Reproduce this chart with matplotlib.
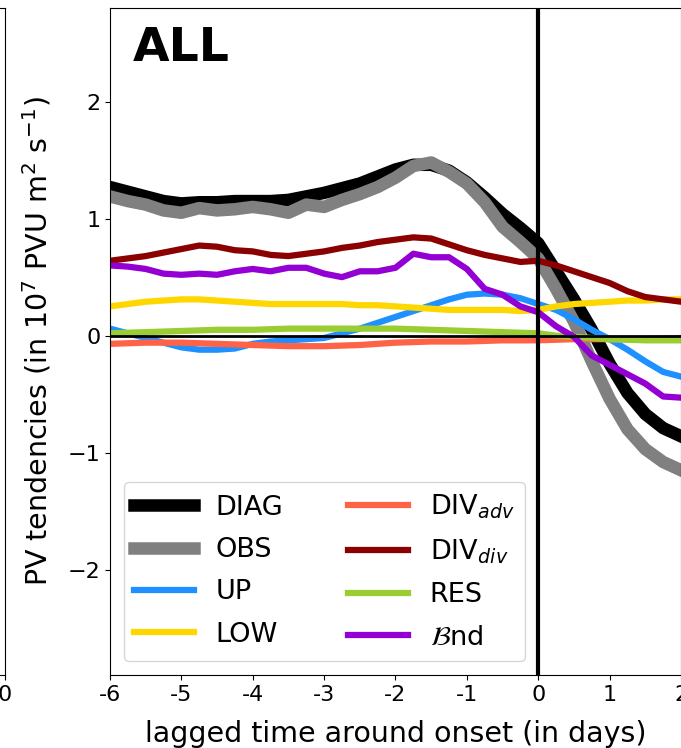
import numpy as np
import matplotlib
matplotlib.use("Agg")
import matplotlib.pyplot as plt

# lag in days around onset (6-hourly composite, sampled every quarter day)
lag = [-6.0, -5.75, -5.5, -5.25, -5.0, -4.75, -4.5, -4.25, -4.0, -3.75, -3.5,
       -3.25, -3.0, -2.75, -2.5, -2.25, -2.0, -1.75, -1.5, -1.25, -1.0, -0.75,
       -0.5, -0.25, 0.0, 0.25, 0.5, 0.75, 1.0, 1.25, 1.5, 1.75, 2.0]

diag = [1.27, 1.23, 1.19, 1.15, 1.13, 1.14, 1.14, 1.15, 1.15, 1.15, 1.16,
        1.19, 1.22, 1.26, 1.30, 1.36, 1.42, 1.46, 1.46, 1.41, 1.31, 1.18,
        1.04, 0.92, 0.79, 0.55, 0.31, 0.05, -0.24, -0.49, -0.67, -0.79, -0.86]
obs = [1.19, 1.15, 1.12, 1.07, 1.05, 1.09, 1.07, 1.08, 1.10, 1.08, 1.05,
       1.12, 1.10, 1.16, 1.21, 1.27, 1.35, 1.45, 1.48, 1.40, 1.30, 1.14,
       0.93, 0.80, 0.66, 0.40, 0.12, -0.22, -0.54, -0.80, -0.97, -1.08, -1.15]
up = [0.06, 0.02, -0.02, -0.06, -0.10, -0.12, -0.12, -0.11, -0.07, -0.05, -0.04,
      -0.03, -0.02, 0.02, 0.06, 0.11, 0.16, 0.21, 0.26, 0.31, 0.35, 0.36,
      0.35, 0.32, 0.27, 0.22, 0.14, 0.05, -0.03, -0.12, -0.22, -0.31, -0.35]
low = [0.25, 0.27, 0.29, 0.30, 0.31, 0.31, 0.30, 0.29, 0.28, 0.27, 0.27,
       0.27, 0.27, 0.27, 0.26, 0.26, 0.25, 0.24, 0.23, 0.22, 0.22, 0.22,
       0.22, 0.21, 0.22, 0.25, 0.27, 0.28, 0.29, 0.30, 0.30, 0.31, 0.31]
div_adv = [-0.07, -0.065, -0.06, -0.06, -0.06, -0.065, -0.07, -0.075, -0.08, -0.085, -0.09,
           -0.09, -0.09, -0.085, -0.08, -0.07, -0.06, -0.055, -0.05, -0.05, -0.05, -0.045,
           -0.04, -0.04, -0.04, -0.035, -0.03, -0.03, -0.03, -0.03, -0.03, -0.025, -0.02]
div_div = [0.64, 0.66, 0.68, 0.71, 0.74, 0.77, 0.76, 0.73, 0.72, 0.69, 0.68,
           0.70, 0.72, 0.75, 0.77, 0.80, 0.82, 0.84, 0.83, 0.78, 0.73, 0.69,
           0.66, 0.63, 0.64, 0.60, 0.55, 0.50, 0.45, 0.38, 0.33, 0.31, 0.29]
res = [0.02, 0.025, 0.03, 0.035, 0.04, 0.045, 0.05, 0.05, 0.05, 0.055, 0.06,
       0.06, 0.06, 0.06, 0.06, 0.06, 0.06, 0.055, 0.05, 0.045, 0.04, 0.035,
       0.03, 0.025, 0.02, 0.0, -0.01, -0.02, -0.03, -0.035, -0.04, -0.04, -0.04]
bnd = [0.60, 0.59, 0.57, 0.53, 0.52, 0.53, 0.52, 0.55, 0.57, 0.55, 0.58,
       0.58, 0.53, 0.50, 0.55, 0.55, 0.58, 0.70, 0.67, 0.67, 0.57, 0.40,
       0.35, 0.25, 0.20, 0.08, -0.01, -0.17, -0.25, -0.33, -0.41, -0.52, -0.53]

xticks = [-6, -5, -4, -3, -2, -1, 0, 1, 2]
xticklabels = ['-6', '-5', '-4', '-3', '-2', '-1', '0', '1', '2']

fig = plt.figure(figsize=(6.81, 7.48), dpi=100)
fs = 16

# neighbouring panel, only its right edge shows
ax0 = fig.add_axes([0.0073 - 0.8385, 0.0976, 0.8385, 0.8917])
ax0.set_xlim(-6, 0)
ax0.set_ylim(-2.9, 2.8)
ax0.set_xticks([0])
ax0.set_xticklabels(['0'], fontsize=fs)
ax0.set_yticks([])

ax = fig.add_axes([0.1615, 0.0976, 0.8385, 0.8917])
thick = 9
thin = 4.5
ax.plot(lag, diag, color='black', lw=thick, label='DIAG')
ax.plot(lag, obs, color='grey', lw=thick, label='OBS')
ax.plot(lag, up, color='dodgerblue', lw=thin, label='UP')
ax.plot(lag, low, color='gold', lw=thin, label='LOW')
ax.plot(lag, div_adv, color='tomato', lw=thin, label='DIV$_{adv}$')
ax.plot(lag, div_div, color='darkred', lw=thin, label='DIV$_{div}$')
ax.plot(lag, res, color='yellowgreen', lw=thin, label='RES')
ax.plot(lag, bnd, color='darkviolet', lw=thin, label=r'$\mathcal{B}$nd')

ax.axvline(0, color='black', lw=3)
ax.axhline(0, color='black', lw=2)

ax.set_xlim(-6, 2)
ax.set_ylim(-2.9, 2.8)
ax.set_xticks(xticks)
ax.set_xticklabels(xticklabels, fontsize=fs)
ax.set_yticks([-2, -1, 0, 1, 2])
ax.tick_params(labelsize=fs)
ax.set_xlabel('lagged time around onset (in days)', fontsize=20.5, labelpad=11)
ax.set_ylabel(r'PV tendencies (in 10$^7$ PVU m$^2$ s$^{-1}$)', fontsize=20.5,
              labelpad=10)

ax.text(0.04, 0.92, 'ALL', transform=ax.transAxes, fontsize=34,
        fontweight='bold', va='baseline')

ax.legend(loc='lower left', ncol=2, fontsize=19.5, handlelength=2.2,
          columnspacing=2.4, labelspacing=0.6)

fig.savefig('out.png', dpi=100)
